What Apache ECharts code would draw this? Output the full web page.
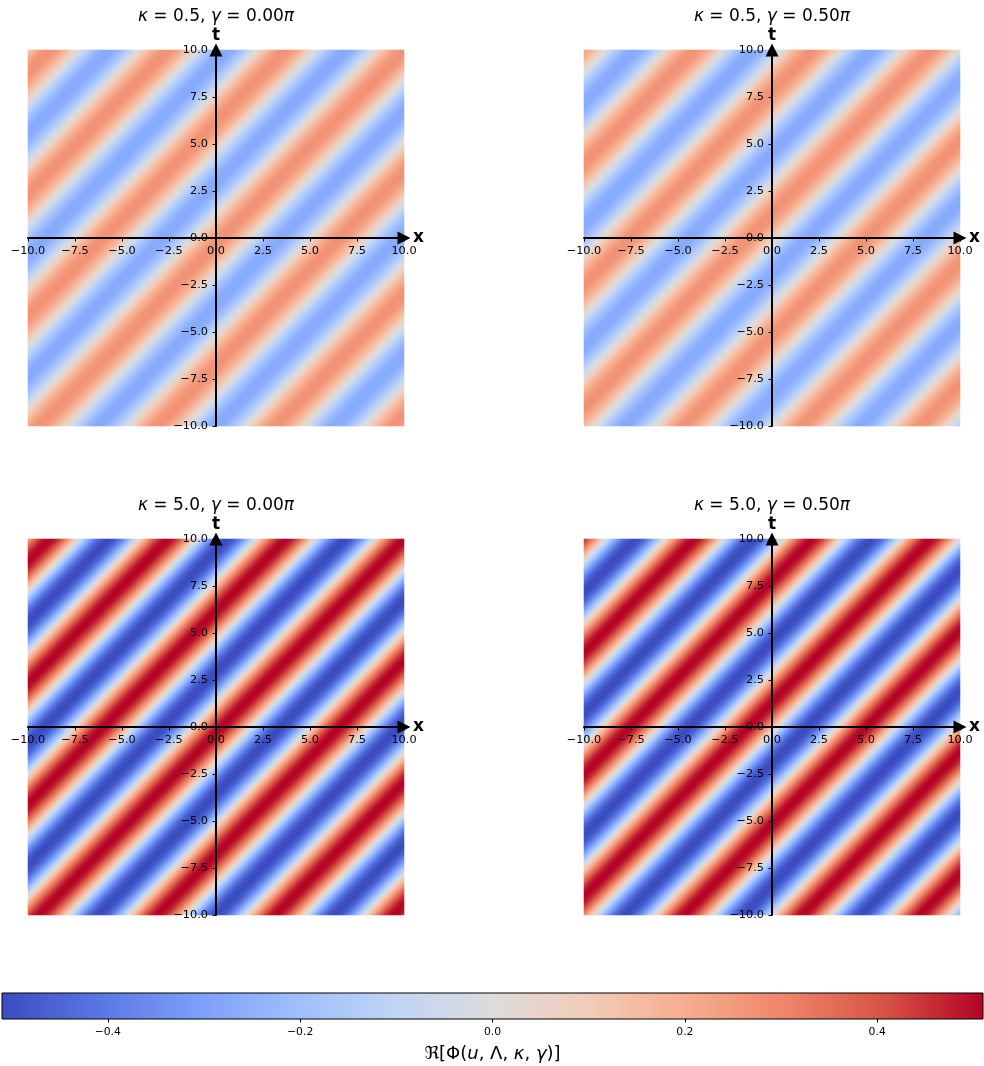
<!DOCTYPE html>
<html><head><meta charset="utf-8">
<script src="https://cdn.jsdelivr.net/npm/echarts@6/dist/echarts.min.js"></script>
<style>html,body{margin:0;padding:0;background:#fff}#c{width:984px;height:1066px}</style>
</head><body><div id="c"></div>
<script>
// ---- values ----
const panelKappa    = [0.5, 0.5, 5.0, 5.0];
const panelGammaPi  = [0.00, 0.50, 0.00, 0.50];
const waveAmplitude = [0.27, 0.27, 0.51, 0.51];   // peak |Re Phi| per panel
const waveNumber    = [1.0, 1.0, 1.0, 1.0];       // phase advance per unit x
const stripeSpeed   = [0.97, 0.97, 0.97, 0.97];   // dx/dt of a stripe
const crestAtT0     = [0.3, -1.27, 0.3, -1.27];   // x of a red crest on t = 0
const axisTicks     = [-10, -7.5, -5, -2.5, 0, 2.5, 5, 7.5, 10];
const colorbarTicks = [-0.4, -0.2, 0.0, 0.2, 0.4];
const colorRange    = [-0.51, 0.51];
const coolwarm = ['#3b4cc0','#5977e3','#7b9ff9','#9ebeff','#c0d4f5','#dddcdc','#f2cbb7','#f7ac8e','#ee8468','#d65244','#b40426'];

// ---- layout ----
const N = 188;                 // cells per side
const panelLeft = [28, 584, 28, 584];
const panelTop  = [50, 50, 539, 539];
const panelSize = 376;
const FONT = 'DejaVu Sans';
const TICK_FS = 11.3;

const chart = echarts.init(document.getElementById('c'), null, {renderer: 'canvas'});

const axMin = axisTicks[0], axMax = axisTicks[axisTicks.length - 1];
const cellCenters = [];
for (let i = 0; i < N; i++) cellCenters.push((axMin + (i + 0.5) * (axMax - axMin) / N).toFixed(4));

function panelData(p) {
  const out = [];
  for (let j = 0; j < N; j++) {
    const t = +cellCenters[j];
    for (let i = 0; i < N; i++) {
      const x = +cellCenters[i];
      out.push([i, j, waveAmplitude[p] * Math.cos(waveNumber[p] * (x - crestAtT0[p] - stripeSpeed[p] * t))]);
    }
  }
  return out;
}

const fmt = v => (v < 0 ? '\u2212' : '') + Math.abs(v).toFixed(1);
const gridBase = {containLabel: false, outerBoundsMode: 'none'};

const grids = [], xAxes = [], yAxes = [], series = [], graphics = [];
function visAxis(gi, name, pos, margin, nameGap, nameStyle) {
  return {
    gridIndex: gi, type: 'value', position: pos, min: axMin, max: axMax, interval: 2.5, z: 10,
    axisLine: {show: true, onZero: false, lineStyle: {color: '#000', width: 2}, symbol: ['none', 'triangle'], symbolSize: [13, 13]},
    axisTick: {show: true, length: 3.5, lineStyle: {color: '#000', width: 1}},
    axisLabel: {formatter: fmt, fontSize: TICK_FS, color: '#000', margin: margin, fontFamily: FONT},
    splitLine: {show: false},
    name: name, nameLocation: 'end', nameGap: nameGap, nameMoveOverlap: false,
    nameTextStyle: Object.assign({fontWeight: 'bold', fontSize: 17, color: '#000', fontFamily: FONT}, nameStyle)
  };
}
const hiddenAxis = gi => ({gridIndex: gi, type: 'value', min: axMin, max: axMax, show: false});

for (let p = 0; p < 4; p++) {
  const L = panelLeft[p], T = panelTop[p], S = panelSize;
  // grid 3p: heatmap
  grids.push(Object.assign({left: L, top: T, width: S, height: S}, gridBase));
  xAxes.push({gridIndex: 3*p, type: 'category', data: cellCenters, show: false});
  yAxes.push({gridIndex: 3*p, type: 'category', data: cellCenters, show: false});
  // grid 3p+1: x axis drawn along t = 0 (bottom of upper half)
  grids.push(Object.assign({left: L, top: T, width: S, height: S / 2}, gridBase));
  xAxes.push(visAxis(3*p+1, 'x', 'bottom', 8, 9, {verticalAlign: 'middle'}));
  yAxes.push(hiddenAxis(3*p+1));
  // grid 3p+2: t axis drawn along x = 0 (left of right half)
  grids.push(Object.assign({left: L + S / 2, top: T, width: S / 2, height: S}, gridBase));
  xAxes.push(hiddenAxis(3*p+2));
  yAxes.push(visAxis(3*p+2, 't', 'left', 8, 6, {}));

  series.push({
    type: 'heatmap', xAxisIndex: 3*p, yAxisIndex: 3*p, data: panelData(p),
    progressive: 0, silent: true, emphasis: {disabled: true}, itemStyle: {borderWidth: 0}
  });
  graphics.push({
    type: 'text', x: L + S / 2, y: T - 33,
    style: {
      text: '{i|κ} = ' + panelKappa[p].toFixed(1) + ', {i|γ} = ' + panelGammaPi[p].toFixed(2) + '{i|π}',
      align: 'center', verticalAlign: 'middle', fontSize: 17, fontFamily: FONT, fill: '#000',
      rich: {i: {fontStyle: 'italic', fontSize: 17, fontFamily: FONT}}
    }
  });
}

// colorbar (grid 12)
grids.push(Object.assign({left: 2, top: 993, width: 981, height: 26}, gridBase));
xAxes.push({
  gridIndex: 12, type: 'value', min: colorRange[0], max: colorRange[1],
  axisLine: {show: false},
  axisTick: {show: true, length: 3.5, lineStyle: {color: '#000'}, customValues: colorbarTicks},
  axisLabel: {customValues: colorbarTicks, formatter: fmt, fontSize: 10.8, color: '#000', margin: 8, fontFamily: FONT},
  splitLine: {show: false},
  name: 'ℜ[Φ({i|u}, Λ, {i|κ}, {i|γ})]', nameLocation: 'middle', nameGap: 26, nameMoveOverlap: false,
  nameTextStyle: {fontSize: 18, color: '#000', fontFamily: FONT, rich: {i: {fontStyle: 'italic', fontSize: 18, fontFamily: FONT}}}
});
yAxes.push({gridIndex: 12, type: 'value', min: 0, max: 1, show: false});
const stops = coolwarm.map((c, i) => ({offset: i / (coolwarm.length - 1), color: c}));
series.push({
  type: 'custom', xAxisIndex: 12, yAxisIndex: 12, silent: true,
  data: [[colorRange[0], colorRange[1]]],
  renderItem: (params, api) => {
    const p0 = api.coord([api.value(0), 1]);
    const p1 = api.coord([api.value(1), 0]);
    return {type: 'rect', shape: {x: p0[0], y: p0[1], width: p1[0] - p0[0], height: p1[1] - p0[1]},
      style: {fill: new echarts.graphic.LinearGradient(0, 0, 1, 0, stops), stroke: '#000', lineWidth: 1}};
  }
});

chart.setOption({
  animation: false,
  backgroundColor: '#fff',
  grid: grids, xAxis: xAxes, yAxis: yAxes, series: series, graphic: graphics,
  visualMap: {type: 'continuous', show: false, min: colorRange[0], max: colorRange[1], seriesIndex: [0, 1, 2, 3],
    inRange: {color: coolwarm}}
});
</script></body></html>
